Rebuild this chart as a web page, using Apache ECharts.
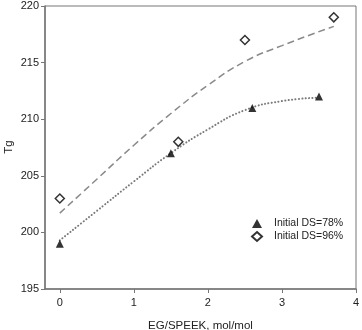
<!DOCTYPE html>
<html>
<head>
<meta charset="utf-8">
<script src="https://cdn.jsdelivr.net/npm/echarts@6/dist/echarts.min.js"></script>
<style>
  html, body { margin: 0; padding: 0; background: #fff; }
  #main { width: 362px; height: 330px; }
</style>
</head>
<body>
<div id="main"></div>
<script>
// measured points
var ratio78 = [0, 1.5, 2.6, 3.5];
var tg78 = [199, 207, 211, 212];
var ratio96 = [0, 1.6, 2.5, 3.7];
var tg96 = [203, 208, 217, 219];

// fitted curves
var fit78X = [0, 0.5, 1, 1.5, 2, 2.5, 3, 3.5];
var fit78Y = [199.3, 201.9, 204.5, 207.0, 209.1, 210.8, 211.6, 211.9];
var fit96X = [0, 0.5, 1, 1.5, 2, 2.5, 3, 3.7];
var fit96Y = [201.7, 204.7, 207.7, 210.5, 213.0, 215.1, 216.5, 218.2];

var xTicks = [0, 1, 2, 3, 4];

function pairs(xs, ys) {
	return xs.map(function (x, i) { return [x, ys[i]]; });
}

var chart = echarts.init(document.getElementById('main'));

var font = 'Liberation Sans, Arial, sans-serif';

var option = {
	animation: false,
	grid: {
		left: 45,
		right: 6,
		top: 6,
		bottom: 41,
		outerBoundsMode: 'none',
		show: true,
		borderColor: '#777',
		borderWidth: 1
	},
	// y axis title drawn by hand, the axis name gets pushed off the edge
	graphic: [{
		type: 'text',
		x: 9,
		y: 147,
		rotation: Math.PI / 2,
		style: {
			text: 'Tg',
			align: 'center',
			verticalAlign: 'middle',
			font: '11.5px ' + font,
			fill: '#222'
		}
	}],
	legend: {
		data: ['Initial DS=78%', 'Initial DS=96%'],
		orient: 'vertical',
		left: 246,
		top: 213,
		itemWidth: 10,
		itemHeight: 9,
		itemGap: 2,
		textStyle: {
			fontFamily: font,
			fontSize: 10.5,
			color: '#222',
			padding: [0, 0, 0, 7]
		}
	},
	xAxis: {
		type: 'value',
		min: -0.2,
		max: 4,
		name: 'EG/SPEEK, mol/mol',
		nameLocation: 'middle',
		nameGap: 31,
		nameTextStyle: { fontFamily: font, fontSize: 11.5, color: '#222' },
		splitLine: { show: false },
		axisLine: { onZero: false, lineStyle: { color: '#777', width: 1.5 } },
		axisTick: { customValues: xTicks, length: 4, lineStyle: { color: '#777' } },
		axisLabel: {
			customValues: xTicks,
			margin: 8,
			fontFamily: font,
			fontSize: 11,
			color: '#222'
		}
	},
	yAxis: {
		type: 'value',
		min: 195,
		max: 220,
		interval: 5,
		splitLine: { show: false },
		axisLine: { show: true, onZero: false, lineStyle: { color: '#777', width: 1.5 } },
		axisTick: { show: true, length: 4, lineStyle: { color: '#777' } },
		axisLabel: {
			margin: 6,
			fontFamily: font,
			fontSize: 11,
			color: '#222'
		}
	},
	series: [{
		name: 'fit 96',
		type: 'line',
		smooth: true,
		symbol: 'none',
		silent: true,
		data: pairs(fit96X, fit96Y),
		lineStyle: { color: '#8a8a8a', width: 1.5, type: [7, 4] },
		z: 1
	}, {
		name: 'fit 78',
		type: 'line',
		smooth: true,
		symbol: 'none',
		silent: true,
		data: pairs(fit78X, fit78Y),
		lineStyle: { color: '#7a7a7a', width: 2, type: [0.1, 3.3], cap: 'round' },
		z: 1
	}, {
		name: 'Initial DS=78%',
		type: 'scatter',
		symbol: 'triangle',
		symbolSize: 8,
		data: pairs(ratio78, tg78),
		itemStyle: { color: '#000' },
		z: 3
	}, {
		name: 'Initial DS=96%',
		type: 'scatter',
		symbol: 'diamond',
		symbolSize: 9,
		data: pairs(ratio96, tg96),
		itemStyle: { color: '#fff', borderColor: '#000', borderWidth: 1.5 },
		z: 3
	}]
};

chart.setOption(option);
</script>
</body>
</html>
